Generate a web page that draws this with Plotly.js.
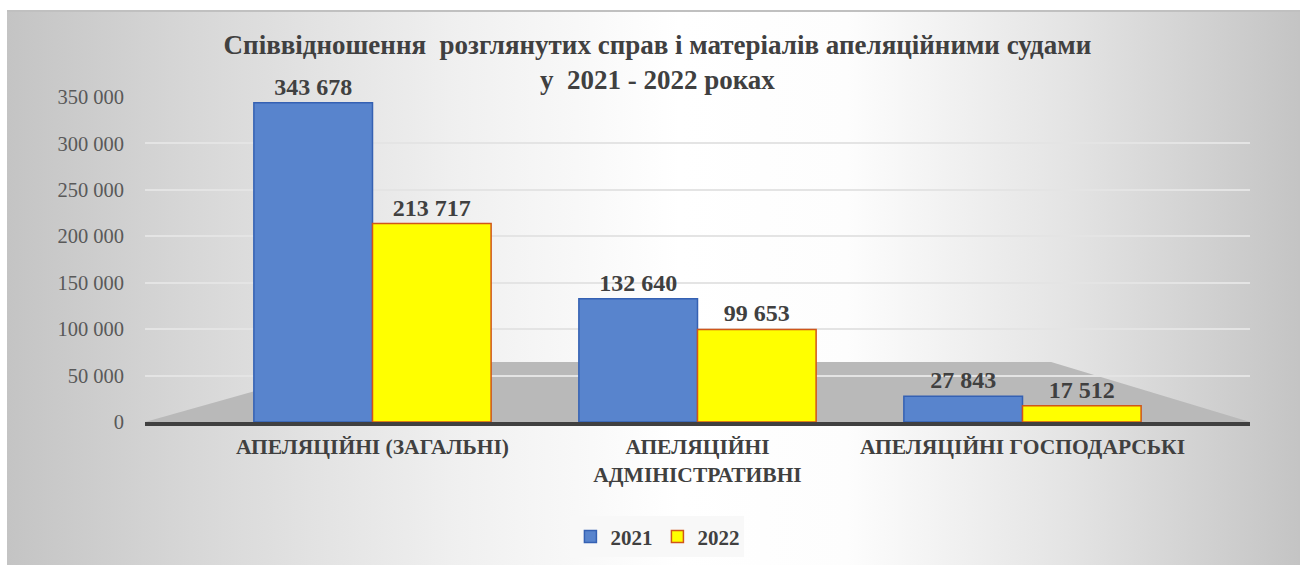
<!DOCTYPE html>
<html>
<head>
<meta charset="utf-8">
<script src="https://cdn.plot.ly/plotly-3.0.1.min.js"></script>
<style>
  html, body { margin: 0; padding: 0; background: #ffffff; }
  #frame {
    position: absolute; left: 7px; top: 10px; width: 1293px; height: 553px;
    border-top: 2px solid #c0c0c0;
    background: linear-gradient(to right, #c4c4c4 0%, #d8d8d8 15%, #f0f0f0 35%, #ffffff 52%, #fdfdfd 65%, #e4e4e4 82%, #c4c4c4 100%);
  }
  #chart { position: absolute; left: 0; top: 0; width: 1307px; height: 567px; }
</style>
</head>
<body>
<div id="frame"></div>
<div id="chart"></div>
<script>
const categories = ["АПЕЛЯЦІЙНІ (ЗАГАЛЬНІ)", "АПЕЛЯЦІЙНІ<br>АДМІНІСТРАТИВНІ", "АПЕЛЯЦІЙНІ ГОСПОДАРСЬКІ"];
const values2021 = [343678, 132640, 27843];
const values2022 = [213717, 99653, 17512];
const seriesNames = ["2021", "2022"];
const yTicks = [0, 50000, 100000, 150000, 200000, 250000, 300000, 350000];

const labelFont = {family: "Liberation Serif", size: 24, color: "#404040", weight: "bold"};

const traces = [
  {
    type: "bar", name: seriesNames[0], x: categories, y: values2021,
    marker: {color: "#5884cd", line: {color: "#3561b3", width: 1.5}},
    texttemplate: "<b>%{y:,}</b>", textposition: "outside",
    textfont: labelFont, cliponaxis: false
  },
  {
    type: "bar", name: seriesNames[1], x: categories, y: values2022,
    marker: {color: "#ffff00", line: {color: "#d0561a", width: 1.5}},
    texttemplate: "<b>%{y:,}</b>", textposition: "outside",
    textfont: labelFont, cliponaxis: false
  }
];

const layout = {
  width: 1307, height: 567,
  paper_bgcolor: "rgba(0,0,0,0)", plot_bgcolor: "rgba(0,0,0,0)",
  separators: ". ",
  margin: {l: 145, r: 57, t: 97, b: 145, autoexpand: false},
  barmode: "group", bargap: 0.27, bargroupgap: 0,
  showlegend: true,
  title: {
    text: "<b>Співвідношення  розглянутих справ і матеріалів апеляційними судами<br>у  2021 - 2022 роках</b>",
    x: 0.503, xanchor: "center", y: 0.905, yanchor: "top",
    font: {family: "Liberation Serif", size: 27, color: "#404040"}
  },
  xaxis: {
    type: "category", range: [-0.7, 2.7],
    showline: true, linecolor: "#404040", linewidth: 4,
    ticks: "", showgrid: false, ticklabelstandoff: 2,
    tickfont: {family: "Liberation Serif", size: 21.5, color: "#404040", weight: "bold"}
  },
  yaxis: {
    range: [0, 350000], tickvals: yTicks, tickformat: ",",
    showgrid: true, gridcolor: "#e4e4e4", gridwidth: 2,
    zeroline: false, showline: false, ticks: "", ticklabelstandoff: 20,
    tickfont: {family: "Liberation Serif", size: 20.5, color: "#595959"}
  },
  legend: {
    orientation: "h", xref: "container", yref: "container",
    x: 0.503, xanchor: "center", y: 0.053, yanchor: "middle",
    bgcolor: "#f8f8f8", traceorder: "normal",
    font: {family: "Liberation Serif", size: 21, color: "#404040", weight: "bold"},
    itemwidth: 30
  },
  shapes: [
    {type: "path", xref: "paper", yref: "paper", layer: "between",
     path: "M 0,0 L 1,0 L 0.82,0.185 L 0.193,0.185 Z",
     fillcolor: "#b9b9b9", line: {width: 0}}
  ]
};

Plotly.newPlot("chart", traces, layout, {displayModeBar: false, staticPlot: true});
</script>
</body>
</html>
